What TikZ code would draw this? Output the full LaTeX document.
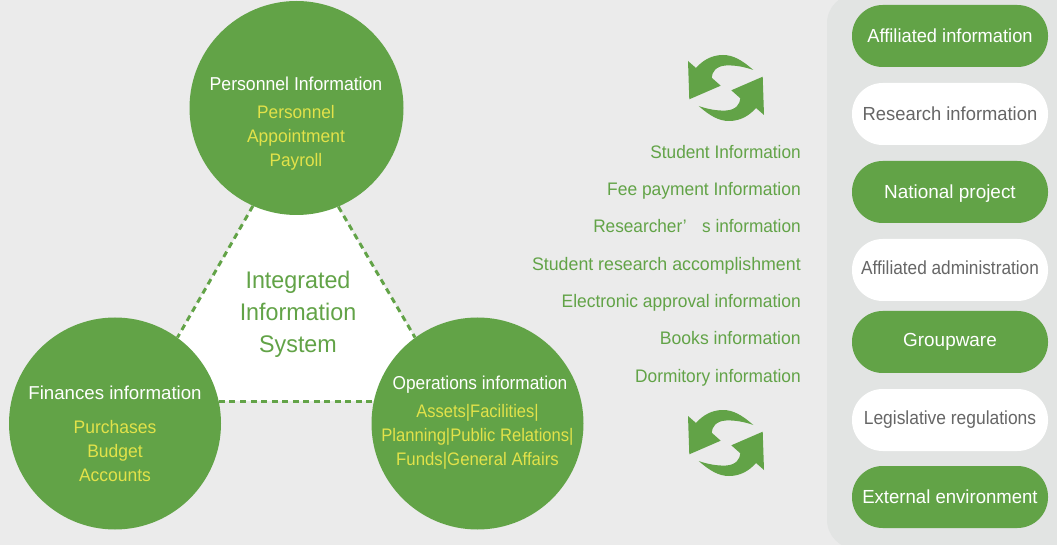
\documentclass[tikz,border=0pt]{standalone}
\usepackage{fontspec}
\setmainfont{Liberation Sans}
\definecolor{gr}{HTML}{62A347}
\definecolor{yl}{HTML}{E2E24A}
\definecolor{bgc}{HTML}{EBEBEB}
\definecolor{panel}{HTML}{E2E4E3}
\definecolor{gt}{HTML}{666666}
\tikzset{
 tw/.style={execute at begin node={\addfontfeature{FakeStretch=#1}}},
 circ/.style={circle,fill=gr,minimum size=#1*0.75pt,inner sep=0pt},
 pill/.style={rounded corners=23pt,minimum width=147pt,minimum height=46.5pt,inner sep=0pt,text height=10pt,text depth=3pt,font=\fontsize{14.2pt}{16pt}\selectfont},
 pg/.style={pill,fill=gr,text=white},
 pw/.style={pill,fill=white,text=gt},
 ttl/.style={text=white,text height=10pt,text depth=3pt,font=\fontsize{14pt}{16pt}\selectfont,inner sep=0pt},
 sub/.style={text=yl,text height=10pt,text depth=3pt,font=\fontsize{13.6pt}{16pt}\selectfont,inner sep=0pt},
 lst/.style={text=gr,anchor=east,inner sep=0pt,text height=10pt,text depth=3pt,font=\fontsize{13.6pt}{16pt}\selectfont},
 link/.style={gr,line width=2.2pt,dash pattern=on 4.5pt off 3.4pt},
 cyc/.pic={
  \fill[gr] (688,61) -- (689.3,99.3) -- (720.7,85.7) -- (711.7,77.7)
    .. controls (712,72) and (716,66) .. (726,65.5)
    .. controls (735,65) and (745,67) .. (753.3,70)
    .. controls (742,60) and (733,55) .. (723,55)
    .. controls (712,55) and (703,60) .. (696,68) -- cycle;
  \fill[gr] (764,115) -- (762.7,76.7) -- (731.3,90.3) -- (740.3,98.3)
    .. controls (740,104) and (736,110) .. (726,110.5)
    .. controls (717,111) and (707,109) .. (698.7,106)
    .. controls (710,116) and (719,121) .. (729,121)
    .. controls (740,121) and (749,116) .. (756,108) -- cycle;
 }
}
\begin{document}
\begin{tikzpicture}[x=0.75pt,y=-0.75pt]
\useasboundingbox (0,0) rectangle (1057,545);
\fill[bgc] (0,0) rectangle (1057,545);
\fill[panel,rounded corners=22pt] (827,-6) rectangle (1100,549);
\fill[white] (253,207) -- (338,207) -- (415,338) -- (420,401) -- (180,401) -- (177,338) -- cycle;
\node[circ=214] (pers) at (296.5,108) {};
\node[circ=212] (fin) at (115,423.5) {};
\node[circ=212] (ops) at (477.5,423.5) {};
\draw[link] (pers.246.3) -- (fin.54);
\draw[link] (pers.293) -- (ops.126);
\draw[link] (fin.12) -- (ops.168);
\node[inner sep=0pt,text=gr,align=center,font=\fontsize{18pt}{24pt}\selectfont,tw=0.97] (core) at (298,314) {Integrated\\Information\\System};
\node[ttl,tw=0.945] (t1) at (296,86) {Personnel Information};
\node[sub,tw=0.95] (s1a) at (296,113.5) {Personnel};
\node[sub,tw=0.96] (s1b) at (296,137.5) {Appointment};
\node[sub,tw=0.95] (s1c) at (296,161.5) {Payroll};
\node[ttl] (t2) at (115,395) {Finances information};
\node[sub,tw=0.965] (s2a) at (115,428.5) {Purchases};
\node[sub,tw=0.965] (s2b) at (115,452.5) {Budget};
\node[sub,tw=0.965] (s2c) at (115,476.5) {Accounts};
\node[ttl,tw=0.925] (t3) at (480,385) {Operations information};
\node[sub,tw=0.91] (s3a) at (477.5,412.5) {Assets|Facilities|};
\node[sub,tw=0.915] (s3b) at (477.5,436.5) {Planning|Public Relations|};
\node[sub,tw=0.925] (s3c) at (477.5,460.5) {Funds|General Affairs};
\node[lst,tw=0.95] (l1) at (801,154) {Student Information};
\node[lst,tw=0.96] (l2) at (801,191) {Fee payment Information};
\node[lst,tw=0.95] (l3) at (801,228) {Researcher’\hspace{11.5pt}s information};
\node[lst,tw=0.98] (l4) at (801,266) {Student research accomplishment};
\node[lst,tw=0.96] (l5) at (801,303) {Electronic approval information};
\node[lst,tw=0.97] (l6) at (801,340) {Books information};
\node[lst,tw=0.955] (l7) at (801,378) {Dormitory information};
\pic at (0,0) {cyc};
\pic at (0,355) {cyc};
\node[pg,tw=0.965] (p1) at (950,36) {\raisebox{-1.5pt}{Affiliated information}};
\node[pw,tw=0.97] (p2) at (950,114) {\raisebox{-1.5pt}{Research information}};
\node[pg] (p3) at (950,192) {\raisebox{-1.5pt}{National project}};
\node[pw,tw=0.91] (p4) at (950,270) {Affiliated administration};
\node[pg] (p5) at (950,342) {Groupware};
\node[pw,tw=0.92] (p6) at (950,420) {Legislative regulations};
\node[pg,tw=0.98] (p7) at (950,497) {\raisebox{-1.5pt}{External environment}};
\end{tikzpicture}
\end{document}
